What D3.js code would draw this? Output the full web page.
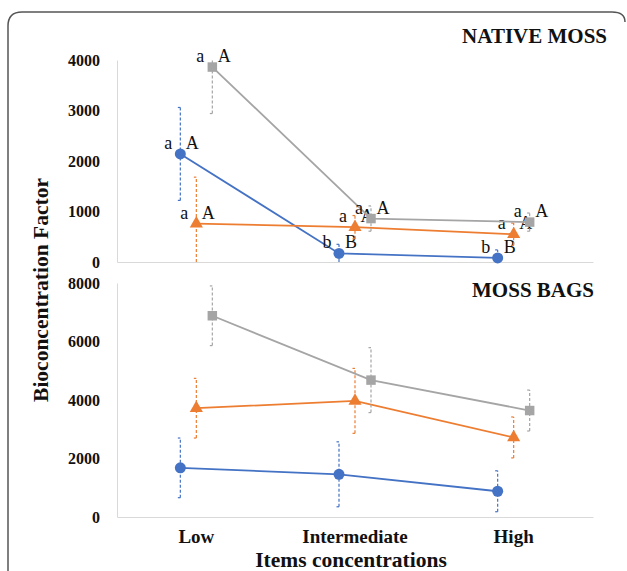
<!DOCTYPE html>
<html>
<head>
<meta charset="utf-8">
<script src="https://cdn.jsdelivr.net/npm/d3@7"></script>
<style>
  body { margin: 0; background: #fff; }
  text { font-family: 'Liberation Serif', 'Times New Roman', serif; fill: #111; }
</style>
</head>
<body>
<div class="chart"></div>
<script>
const categories = ['Low', 'Intermediate', 'High'];
const seriesNames = ['blue', 'orange', 'gray'];
const colors = ['#4472C4', '#ED7D31', '#A5A5A5'];
const shapes = ['circle', 'triangle', 'square'];

// native moss (top panel)
const nativeValues = [
  [2140, 170, 80],
  [760, 690, 550],
  [3860, 860, 790],
];
const nativeErrors = [
  [920, 180, 160],
  [920, 230, 220],
  [920, 250, 180],
];
const nativeLetters = [
  [['a', 'A'], ['b', 'B'], ['b', 'B']],
  [['a', 'A'], ['a', 'A'], ['a', 'A']],
  [['a', 'A'], ['a', 'A'], ['a', 'A']],
];
const nativeTicks = [0, 1000, 2000, 3000, 4000];

// moss bags (bottom panel)
const bagValues = [
  [1680, 1460, 880],
  [3720, 3970, 2720],
  [6880, 4680, 3640],
];
const bagErrors = [
  [1020, 1110, 700],
  [1020, 1110, 700],
  [1020, 1110, 700],
];
const bagTicks = [0, 2000, 4000, 6000, 8000];

const width = 627;
const height = 571;
const plotLeft = 117;
const plotRight = 593;
const offsets = [-16, 0, 16];
const serif = "'Liberation Serif', 'Times New Roman', serif";

const svg = d3
  .select('.chart')
  .append('svg')
  .attr('width', width)
  .attr('height', height);

// rounded frame, open at the bottom
svg
  .append('path')
  .attr('d', 'M8,571 L8,26 Q8,12 22,12 L612,12 Q625,12 625,22')
  .attr('fill', 'none')
  .attr('stroke', '#555')
  .attr('stroke-width', 1.5);

const xScale = d3
  .scaleBand()
  .domain(categories)
  .range([plotLeft, plotRight]);

const cx = (c, s) => xScale(c) + xScale.bandwidth() / 2 + offsets[s];

const symbolFor = (shape) => {
  if (shape === 'circle') return d3.symbol().type(d3.symbolCircle).size(95);
  if (shape === 'triangle') return d3.symbol().type(d3.symbolTriangle).size(75);
  return d3.symbol().type(d3.symbolSquare).size(90);
};

const drawPanel = (opts) => {
  const { values, errors, letters, ticks, yMax, top, bottom, title, titleY } = opts;
  const yScale = d3.scaleLinear().domain([0, yMax]).range([bottom, top]);
  const g = svg.append('g');

  // axes: light gray lines, no ticks
  const yAxis = d3
    .axisLeft(yScale)
    .tickValues(ticks)
    .tickSize(0)
    .tickPadding(17)
    .tickFormat(d3.format('d'));
  const yAxisGroup = g
    .append('g')
    .attr('transform', `translate(${plotLeft},0)`)
    .attr('font-family', serif)
    .attr('font-size', 16)
    .call(yAxis);
  yAxisGroup.select('.domain').attr('stroke', '#d9d9d9');
  yAxisGroup
    .selectAll('text')
    .style('font-family', serif)
    .style('font-size', '16px')
    .style('font-weight', 'bold')
    .attr('fill', '#111');

  const xAxis = d3.axisBottom(xScale).tickSize(0).tickFormat(() => '');
  const xAxisGroup = g
    .append('g')
    .attr('transform', `translate(0,${bottom})`)
    .call(xAxis);
  xAxisGroup.select('.domain').attr('stroke', '#d9d9d9').attr('stroke-width', 1.2);

  const clip = (v) => Math.min(v, yMax);

  values.forEach((vals, s) => {
    const color = colors[s];

    // error bars
    vals.forEach((v, i) => {
      const x = cx(categories[i], s);
      const lo = Math.max(0, v - errors[s][i]);
      const hi = clip(v + errors[s][i]);
      g.append('line')
        .attr('x1', x)
        .attr('x2', x)
        .attr('y1', yScale(lo))
        .attr('y2', yScale(hi))
        .attr('stroke', color)
        .attr('stroke-width', 1.2)
        .attr('stroke-dasharray', '3,2');
      if (v + errors[s][i] <= yMax) {
        g.append('line')
          .attr('x1', x - 2.5)
          .attr('x2', x)
          .attr('y1', yScale(hi))
          .attr('y2', yScale(hi))
          .attr('stroke', color)
          .attr('stroke-width', 1.2);
      }
      if (v - errors[s][i] > 0) {
        g.append('line')
          .attr('x1', x - 2.5)
          .attr('x2', x)
          .attr('y1', yScale(lo))
          .attr('y2', yScale(lo))
          .attr('stroke', color)
          .attr('stroke-width', 1.2);
      }
    });

    const line = d3
      .line()
      .x((d, i) => cx(categories[i], s))
      .y((d) => yScale(d));

    g.append('path')
      .datum(vals)
      .attr('d', line)
      .attr('fill', 'none')
      .attr('stroke', color)
      .attr('stroke-width', 1.8);

    g.selectAll(`.marker-${s}`)
      .data(vals)
      .enter()
      .append('path')
      .attr('class', `marker-${s}`)
      .attr('d', symbolFor(shapes[s]))
      .attr('transform', (d, i) => `translate(${cx(categories[i], s)},${yScale(d)})`)
      .attr('fill', color);

    if (letters) {
      vals.forEach((v, i) => {
        const x = cx(categories[i], s);
        const y = yScale(v) - 5;
        g.append('text')
          .attr('x', x - 12)
          .attr('y', y)
          .attr('text-anchor', 'middle')
          .style('font-size', '18px')
          .text(letters[s][i][0]);
        g.append('text')
          .attr('x', x + 12)
          .attr('y', y)
          .attr('text-anchor', 'middle')
          .style('font-size', '18px')
          .text(letters[s][i][1]);
      });
    }
  });

  svg
    .append('text')
    .attr('x', opts.titleRight)
    .attr('y', titleY)
    .attr('text-anchor', 'end')
    .style('font-size', '21px')
    .style('font-weight', 'bold')
    .text(title);
};

drawPanel({
  values: nativeValues,
  errors: nativeErrors,
  letters: nativeLetters,
  ticks: nativeTicks,
  yMax: 4000,
  top: 60,
  bottom: 262,
  title: 'NATIVE MOSS',
  titleY: 43,
  titleRight: 607,
});

drawPanel({
  values: bagValues,
  errors: bagErrors,
  letters: null,
  ticks: bagTicks,
  yMax: 8000,
  top: 283,
  bottom: 517,
  title: 'MOSS BAGS',
  titleY: 297,
  titleRight: 594,
});

// category labels
svg
  .selectAll('.cat-label')
  .data(categories)
  .enter()
  .append('text')
  .attr('class', 'cat-label')
  .attr('x', (d) => xScale(d) + xScale.bandwidth() / 2)
  .attr('y', 543)
  .attr('text-anchor', 'middle')
  .style('font-size', '19px')
  .style('font-weight', 'bold')
  .text((d) => d);

svg
  .append('text')
  .attr('x', 351)
  .attr('y', 567)
  .attr('text-anchor', 'middle')
  .style('font-size', '21.5px')
  .style('font-weight', 'bold')
  .text('Items concentrations');

svg
  .append('text')
  .attr('transform', 'rotate(-90)')
  .attr('x', -290)
  .attr('y', 48)
  .attr('text-anchor', 'middle')
  .style('font-size', '21.5px')
  .style('font-weight', 'bold')
  .text('Bioconcentration Factor');
</script>
</body>
</html>
